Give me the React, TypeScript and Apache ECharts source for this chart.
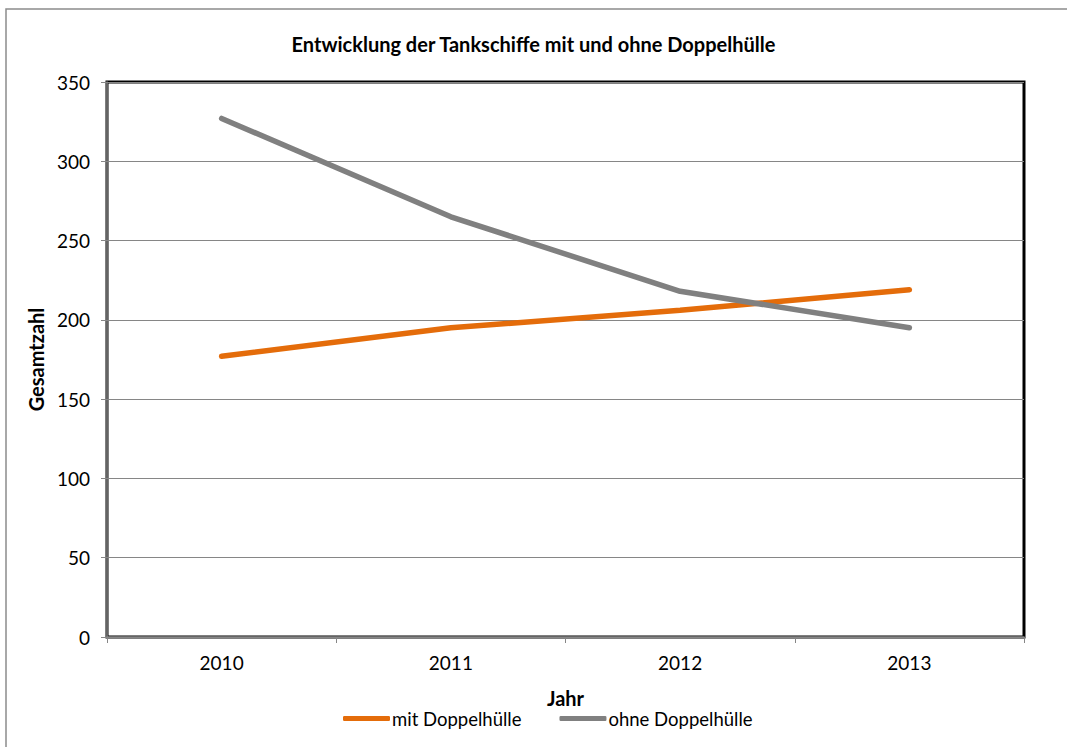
import React, { useEffect, useRef } from "react";
import * as echarts from "echarts";

const years = ["2010", "2011", "2012", "2013"];
const mitDoppelhuelle = [177, 195, 206, 219];
const ohneDoppelhuelle = [327, 265, 218, 195];
const titleText = "Entwicklung der Tankschiffe mit und ohne Doppelhülle";

const FONT = "Lato, 'Open Sans', sans-serif";

export default function App() {
  const ref = useRef<HTMLDivElement>(null);
  useEffect(() => {
    const chart = echarts.init(ref.current!, null, { renderer: "svg" });
    chart.setOption({
      animation: false,
      backgroundColor: "#fff",
      textStyle: { fontFamily: FONT },
      graphic: [
        {
          type: "rect",
          shape: { x: 6, y: 9, width: 1070, height: 760 },
          style: { fill: "none", stroke: "#8c8c8c", lineWidth: 1.5 },
          silent: true,
          z: 0,
        },
      ],
      title: {
        text: titleText,
        left: "center",
        top: 29,
        textStyle: { fontFamily: FONT, fontWeight: "bold", fontSize: 20, color: "#000" },
      },
      legend: {
        bottom: 14,
        left: 338,
        itemWidth: 47,
        itemHeight: 5,
        itemGap: 38,
        icon: "roundRect",
        textStyle: { fontFamily: FONT, fontSize: 18.5, color: "#000", padding: [0, 0, 0, -3] },
        data: ["mit Doppelhülle", "ohne Doppelhülle"],
      },
      grid: {
        left: 107,
        top: 82,
        right: 43,
        bottom: 110,
        show: true,
        borderColor: "#000",
        borderWidth: 3,
        backgroundColor: "#fff",
      },
      xAxis: {
        type: "category",
        data: years,
        boundaryGap: true,
        name: "Jahr",
        nameLocation: "middle",
        nameGap: 51,
        nameTextStyle: { fontFamily: FONT, fontWeight: "bold", fontSize: 20, color: "#000" },
        axisLine: { show: true, lineStyle: { color: "#868686", width: 1.5 } },
        axisTick: { show: true, alignWithLabel: false, length: 6, lineStyle: { color: "#868686" } },
        axisLabel: { fontFamily: FONT, fontSize: 19, color: "#000", margin: 16 },
        splitLine: { show: false },
      },
      yAxis: {
        type: "value",
        min: 0,
        max: 350,
        interval: 50,
        name: "Gesamtzahl",
        nameLocation: "middle",
        nameGap: 61,
        nameTextStyle: { fontFamily: FONT, fontWeight: "bold", fontSize: 20, color: "#000" },
        axisLine: { show: true, lineStyle: { color: "#868686", width: 1.5 } },
        axisTick: { show: true, length: 6, lineStyle: { color: "#868686" } },
        axisLabel: { fontFamily: FONT, fontSize: 19, color: "#000", margin: 17 },
        splitLine: { show: true, lineStyle: { color: "#868686", width: 1 } },
      },
      series: [
        {
          name: "mit Doppelhülle",
          type: "line",
          data: mitDoppelhuelle,
          symbol: "none",
          lineStyle: { color: "#E46C0A", width: 5.5, cap: "round" },
          itemStyle: { color: "#E46C0A" },
        },
        {
          name: "ohne Doppelhülle",
          type: "line",
          data: ohneDoppelhuelle,
          symbol: "none",
          lineStyle: { color: "#808080", width: 5.5, cap: "round" },
          itemStyle: { color: "#808080" },
        },
      ],
    });
    return () => chart.dispose();
  }, []);
  return <div ref={ref} style={{ width: 1067, height: 747, position: "absolute", left: 0, top: 0 }} />;
}
